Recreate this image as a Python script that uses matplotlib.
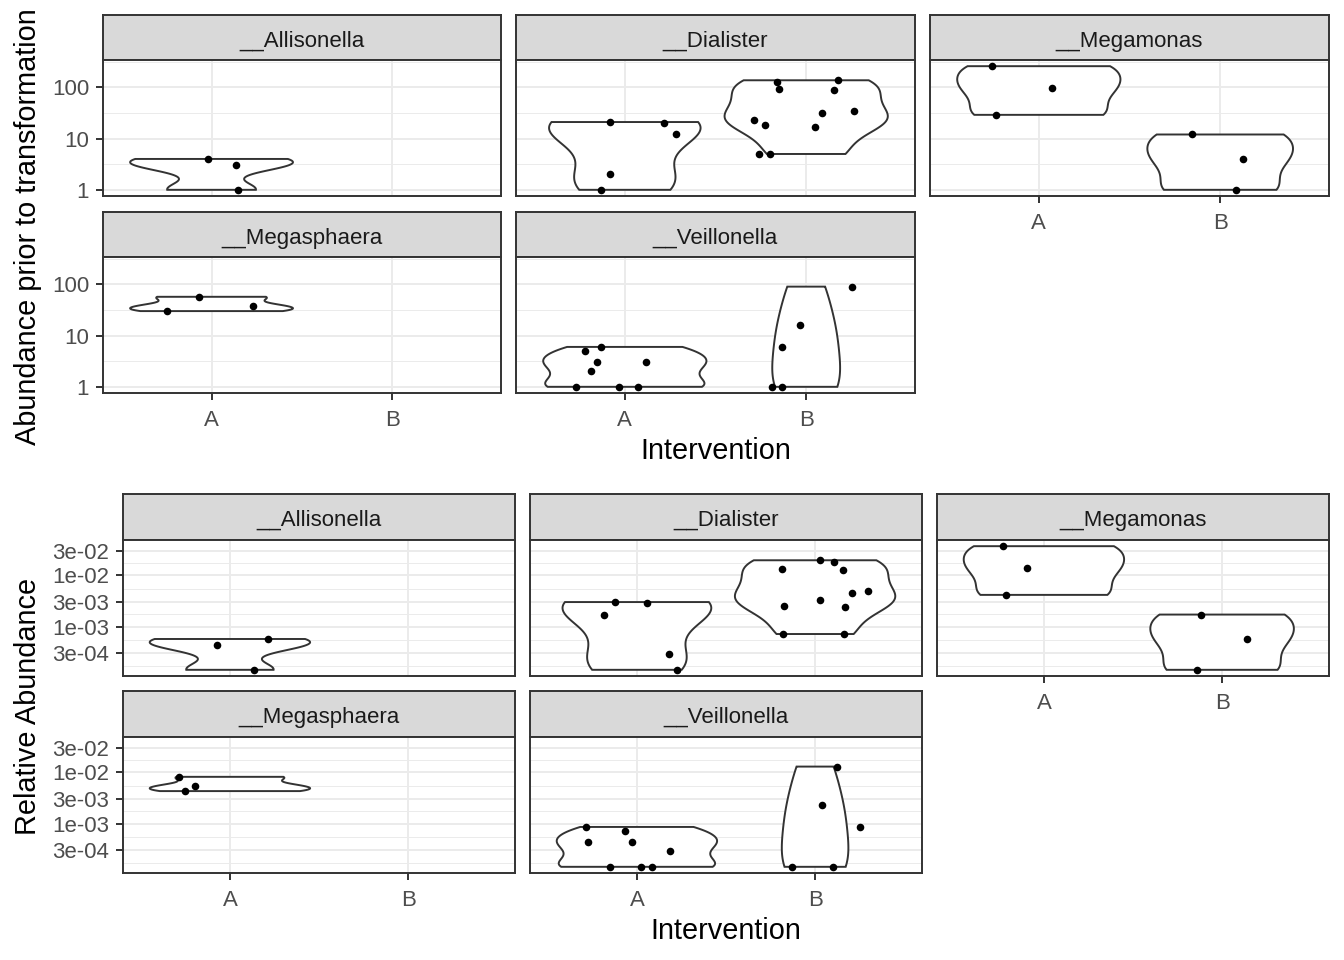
import numpy as np
import matplotlib
matplotlib.use("Agg")
import matplotlib.pyplot as plt

plt.rcParams['font.family'] = ['Liberation Sans', 'DejaVu Sans']

# ---- data ----
taxa = ['__Allisonella', '__Dialister', '__Megamonas', '__Megasphaera', '__Veillonella']
groups = ['A', 'B']

# abundance prior to transformation (counts)
allisonella_a = [4, 3, 1]
dialister_a = [21, 20, 12, 2, 1]
dialister_b = [137, 127, 94, 87, 34, 32, 23, 18, 17, 5, 5]
megamonas_a = [258, 96, 29]
megamonas_b = [12, 4, 1]
megasphaera_a = [57, 38, 30]
veillonella_a = [6, 5, 3, 3, 2, 1, 1, 1]
veillonella_b = [90, 16, 6, 1, 1]

# relative abundance
allisonella_a_rel = [5.71e-4, 4.29e-4, 1.43e-4]
dialister_a_rel = [3.00e-3, 2.86e-3, 1.71e-3, 2.86e-4, 1.43e-4]
dialister_b_rel = [1.96e-2, 1.81e-2, 1.34e-2, 1.24e-2, 4.86e-3, 4.57e-3,
                   3.29e-3, 2.57e-3, 2.43e-3, 7.14e-4, 7.14e-4]
megamonas_a_rel = [3.69e-2, 1.37e-2, 4.14e-3]
megamonas_b_rel = [1.71e-3, 5.71e-4, 1.43e-4]
megasphaera_a_rel = [8.14e-3, 5.43e-3, 4.29e-3]
veillonella_a_rel = [8.57e-4, 7.14e-4, 4.29e-4, 4.29e-4, 2.86e-4, 1.43e-4, 1.43e-4, 1.43e-4]
veillonella_b_rel = [1.29e-2, 2.29e-3, 8.57e-4, 1.43e-4, 1.43e-4]

# horizontal jitter of the points (same order as the values)
jit_allisonella_a = [-0.018, 0.136, 0.147]
jit_dialister_a = [-0.084, 0.218, 0.284, -0.084, -0.134]
jit_dialister_b = [0.176, -0.159, -0.150, 0.152, 0.262, 0.088, -0.286, -0.229, 0.051, -0.260, -0.199]
jit_megamonas_a = [-0.259, 0.074, -0.235]
jit_megamonas_b = [-0.154, 0.125, 0.088]
jit_megasphaera_a = [-0.068, 0.229, -0.247]
jit_veillonella_a = [-0.134, -0.221, -0.154, 0.119, -0.189, -0.271, -0.033, 0.070]
jit_veillonella_b = [0.251, -0.033, -0.132, -0.188, -0.132]

jit_allisonella_a_rel = [0.212, -0.075, 0.133]
jit_dialister_a_rel = [-0.124, 0.056, -0.184, 0.182, 0.225]
jit_dialister_b_rel = [0.026, 0.105, -0.187, 0.157, 0.296, 0.208, 0.026, -0.176, 0.167, -0.180, 0.160]
jit_megamonas_a_rel = [-0.227, -0.096, -0.213]
jit_megamonas_b_rel = [-0.120, 0.139, -0.142]
jit_megasphaera_a_rel = [-0.285, -0.197, -0.253]
jit_veillonella_a_rel = [-0.288, -0.069, -0.277, -0.030, 0.184, -0.152, 0.021, 0.083]
jit_veillonella_b_rel = [0.122, 0.037, 0.253, -0.131, 0.101]

top_ticks = [1, 10, 100]
top_ticklabels = ['1', '10', '100']
rel_ticks = [3e-2, 1e-2, 3e-3, 1e-3, 3e-4]
rel_ticklabels = ['3e-02', '1e-02', '3e-03', '1e-03', '3e-04']

counts = {
    '__Allisonella': [(allisonella_a, jit_allisonella_a), None],
    '__Dialister': [(dialister_a, jit_dialister_a), (dialister_b, jit_dialister_b)],
    '__Megamonas': [(megamonas_a, jit_megamonas_a), (megamonas_b, jit_megamonas_b)],
    '__Megasphaera': [(megasphaera_a, jit_megasphaera_a), None],
    '__Veillonella': [(veillonella_a, jit_veillonella_a), (veillonella_b, jit_veillonella_b)],
}
relab = {
    '__Allisonella': [(allisonella_a_rel, jit_allisonella_a_rel), None],
    '__Dialister': [(dialister_a_rel, jit_dialister_a_rel), (dialister_b_rel, jit_dialister_b_rel)],
    '__Megamonas': [(megamonas_a_rel, jit_megamonas_a_rel), (megamonas_b_rel, jit_megamonas_b_rel)],
    '__Megasphaera': [(megasphaera_a_rel, jit_megasphaera_a_rel), None],
    '__Veillonella': [(veillonella_a_rel, jit_veillonella_a_rel), (veillonella_b_rel, jit_veillonella_b_rel)],
}

W, H = 1344, 960
fig = plt.figure(figsize=(W / 100, H / 100), dpi=100)
fig.patch.set_facecolor('white')

GREY20 = '#333333'
GRID = '#EBEBEB'


def box(x0, y0, x1, y1):
    return [x0 / W, 1 - y1 / H, (x1 - x0) / W, (y1 - y0) / H]


def ydensity(v):
    # gaussian kde with bw.nrd0, trimmed to the data range (like geom_violin)
    v = np.asarray(v, float)
    n = len(v)
    sd = v.std(ddof=1)
    q1, q3 = np.percentile(v, [25, 75])
    lo = min(sd, (q3 - q1) / 1.34)
    if lo == 0:
        lo = sd
    bw = 0.9 * lo * n ** -0.2
    y = np.linspace(v.min(), v.max(), 512)
    d = np.exp(-0.5 * ((y[:, None] - v[None, :]) / bw) ** 2).sum(1) / (n * bw * np.sqrt(2 * np.pi))
    return y, d


def draw_block(data, ticks, ticklabels, cols, rows, ylabel, ylab_x, xlab_y):
    logt = np.log10(ticks)
    allv = np.log10(np.concatenate([np.asarray(g[0], float) for t in taxa for g in data[t] if g]))
    lo, hi = allv.min(), allv.max()
    ylim = (lo - 0.05 * (hi - lo), hi + 0.05 * (hi - lo))
    # minor breaks = midpoints between majors (in log space)
    st = np.sort(logt)
    steps = np.diff(st)
    ext = np.concatenate([[st[0] - steps[-1]], st, [st[-1] + steps[0]]])
    minor = (ext[:-1] + ext[1:]) / 2

    for k, taxon in enumerate(taxa):
        r, c = divmod(k, 3)
        x0, x1 = cols[c]
        s0, p0, p1 = rows[r]
        # strip
        sax = fig.add_axes(box(x0, s0, x1, p0))
        sax.set_facecolor('#D9D9D9')
        sax.set_xticks([])
        sax.set_yticks([])
        for sp in sax.spines.values():
            sp.set_color(GREY20)
            sp.set_linewidth(1.4)
        sax.text(0.5, 0.42, taxon, ha='center', va='center', fontsize=16, color='#1A1A1A',
                 transform=sax.transAxes)
        # panel
        ax = fig.add_axes(box(x0, p0, x1, p1))
        ax.set_xlim(0.4, 2.6)
        ax.set_ylim(*ylim)
        ax.set_yticks(logt)
        ax.set_yticks(minor[(minor > ylim[0]) & (minor < ylim[1])], minor=True)
        ax.set_xticks([1, 2])
        ax.grid(which='major', color=GRID, lw=1.4, zorder=0)
        ax.grid(which='minor', axis='y', color=GRID, lw=0.7, zorder=0)
        ax.set_axisbelow(True)
        for sp in ax.spines.values():
            sp.set_color(GREY20)
            sp.set_linewidth(1.4)
        ax.tick_params(which='minor', length=0)
        ax.tick_params(which='major', color=GREY20, width=1.4, length=5, labelsize=16,
                       labelcolor='#4D4D4D')
        ax.tick_params(axis='x', pad=7)
        ax.tick_params(axis='y', pad=5)
        if c == 0:
            ax.set_yticklabels(ticklabels)
        else:
            ax.tick_params(axis='y', length=0, labelleft=False)
        if r == 1 or c == 2:
            ax.set_xticklabels(groups)
        else:
            ax.tick_params(axis='x', length=0, labelbottom=False)

        dens = []
        for gi, g in enumerate(data[taxon]):
            if g is None:
                continue
            yy, dd = ydensity(np.log10(g[0]))
            dens.append((gi + 1, yy, dd))
        dmax = max(d.max() for _, _, d in dens)
        for xc, yy, dd in dens:
            w = dd / dmax * 0.45
            ax.fill(np.concatenate([xc - w, (xc + w)[::-1]]), np.concatenate([yy, yy[::-1]]),
                    facecolor='white', edgecolor=GREY20, lw=1.4, zorder=2)
        for gi, g in enumerate(data[taxon]):
            if g is None:
                continue
            ax.scatter(gi + 1 + np.asarray(g[1]), np.log10(g[0]), s=30, color='black',
                       linewidths=0, zorder=3)

    ymid = (rows[0][1] + rows[1][2]) / 2
    fig.text(ylab_x / W, 1 - ymid / H, ylabel, rotation=90, ha='center', va='center', fontsize=20.8)
    xmid = (cols[0][0] + cols[2][1]) / 2
    fig.text(xmid / W, 1 - xlab_y / H, 'Intervention', ha='center', va='center', fontsize=20.8)


draw_block(counts, top_ticks, top_ticklabels,
           cols=[(103, 501), (516, 915), (930, 1329)],
           rows=[(15, 60, 196), (212, 257, 393)],
           ylabel='Abundance prior to transformation', ylab_x=28, xlab_y=451)

draw_block(relab, rel_ticks, rel_ticklabels,
           cols=[(123, 515), (530, 922), (937, 1329)],
           rows=[(494, 540, 676), (691, 737, 873)],
           ylabel='Relative Abundance', ylab_x=28, xlab_y=931)

plt.savefig('out.png', dpi=100)
